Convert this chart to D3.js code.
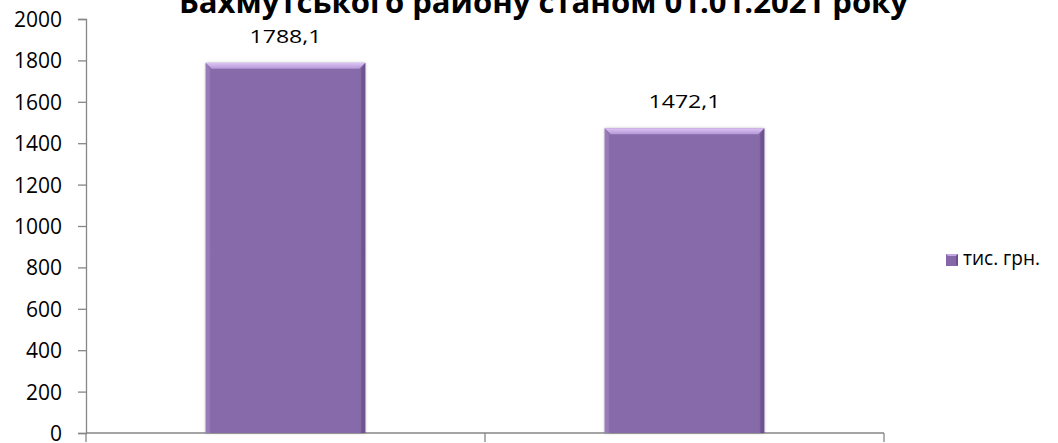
<!DOCTYPE html>
<html>
<head>
<meta charset="utf-8">
<script src="https://cdn.jsdelivr.net/npm/d3@7"></script>
<style>
  html, body { margin: 0; padding: 0; background: #fff; }
  svg { display: block; }
  text { font-family: "Open Sans", "Noto Sans", sans-serif; fill: #000; }
</style>
</head>
<body>
<svg id="chart" width="1058" height="443"></svg>
<script>
const titleText = "Бахмутського району станом 01.01.2021 року";
const categories = ["A", "B"];
const values = [1788.1, 1472.1];
const valueLabels = ["1788,1", "1472,1"];
const seriesName = "тис. грн.";
const yTicks = [0, 200, 400, 600, 800, 1000, 1200, 1400, 1600, 1800, 2000];

const svg = d3.select("#chart");
const W = 1058, H = 443;
const m = { left: 86, right: 174, top: 19, bottom: 10 };
const plotW = W - m.left - m.right; // 798
const plotH = H - m.top - m.bottom; // 414

const x = d3.scaleBand().domain(categories).range([m.left, m.left + plotW]).paddingInner(0.6).paddingOuter(0.3);
const xCat = d3.scaleBand().domain(categories).range([m.left, m.left + plotW]);
const y = d3.scaleLinear().domain([0, 2000]).range([m.top + plotH, m.top]);

const defs = svg.append("defs");
const gTop = defs.append("linearGradient").attr("id", "gTop").attr("x1", 0).attr("y1", 0).attr("x2", 0).attr("y2", 1);
gTop.append("stop").attr("offset", "0%").attr("stop-color", "#dcc4f4");
gTop.append("stop").attr("offset", "100%").attr("stop-color", "#b496d6");
const gBody = defs.append("linearGradient").attr("id", "gBody").attr("x1", 0).attr("y1", 0).attr("x2", 1).attr("y2", 0);
gBody.append("stop").attr("offset", "0%").attr("stop-color", "#8e70ae");
gBody.append("stop").attr("offset", "4%").attr("stop-color", "#876aa9");
gBody.append("stop").attr("offset", "96%").attr("stop-color", "#876aa9");
gBody.append("stop").attr("offset", "100%").attr("stop-color", "#7a5e9c");
const filt = defs.append("filter").attr("id", "shadow").attr("x", "-10%").attr("y", "-10%").attr("width", "120%").attr("height", "120%");
filt.append("feDropShadow").attr("dx", 0).attr("dy", 0).attr("stdDeviation", 1.5).attr("flood-color", "#000").attr("flood-opacity", 0.25);

// axes
const axisColor = "#868686";
const yAxis = svg.append("g").attr("transform", `translate(${m.left},0)`)
  .call(d3.axisLeft(y).tickValues(yTicks).tickSize(8).tickPadding(16).tickFormat(d3.format("d")));
yAxis.select(".domain").attr("stroke", axisColor).attr("stroke-width", 1.3);
yAxis.selectAll(".tick line").attr("stroke", axisColor).attr("stroke-width", 1.3);
yAxis.selectAll(".tick text").style("font-size", "21px").attr("dy", "0.36em").attr("fill", "#000");

const xBounds = [m.left, ...categories.map(c => xCat(c) + xCat.bandwidth())];
const xAxis = svg.append("g");
xAxis.append("line").attr("x1", m.left).attr("x2", m.left + plotW).attr("y1", y(0)).attr("y2", y(0))
  .attr("stroke", axisColor).attr("stroke-width", 1.3);
xAxis.selectAll("line.tk").data(xBounds).join("line").attr("class", "tk")
  .attr("x1", d => d).attr("x2", d => d).attr("y1", y(0)).attr("y2", y(0) + 9)
  .attr("stroke", axisColor).attr("stroke-width", 1.3);

// bars
const bev = 6;
const bars = svg.append("g").selectAll("g").data(values).join("g");
bars.append("rect")
  .attr("x", (d, i) => x(categories[i])).attr("y", d => y(d))
  .attr("width", x.bandwidth()).attr("height", d => y(0) - y(d))
  .attr("fill", "url(#gBody)").attr("filter", "url(#shadow)");
bars.append("polygon")
  .attr("points", (d, i) => {
    const x1 = x(categories[i]) + x.bandwidth(), t = y(d), b = y(0);
    return `${x1},${t} ${x1},${b} ${x1 - 4},${b} ${x1 - 4},${t + bev}`;
  }).attr("fill", "#6a5089").attr("opacity", 0.75);
bars.append("polygon")
  .attr("points", (d, i) => {
    const x0 = x(categories[i]), t = y(d), b = y(0);
    return `${x0},${t} ${x0 + 4},${t + bev} ${x0 + 4},${b} ${x0},${b}`;
  }).attr("fill", "#9a80bb").attr("opacity", 0.8);
bars.append("polygon")
  .attr("points", (d, i) => {
    const x0 = x(categories[i]), x1 = x0 + x.bandwidth(), t = y(d);
    return `${x0},${t} ${x1},${t} ${x1 - bev},${t + bev} ${x0 + bev},${t + bev}`;
  }).attr("fill", "url(#gTop)");

// value labels
svg.append("g").selectAll("text").data(values).join("text")
  .attr("x", (d, i) => x(categories[i]) + x.bandwidth() / 2)
  .attr("y", d => y(d) - 20)
  .attr("text-anchor", "middle")
  .style("font-size", "19px")
  .attr("textLength", 72).attr("lengthAdjust", "spacingAndGlyphs")
  .text((d, i) => valueLabels[i]);

// title (its first line lies above the frame, as in the reference)
svg.append("text")
  .attr("x", 543.5).attr("y", 13)
  .attr("text-anchor", "middle")
  .style("font-size", "31px").style("font-weight", "bold")
  .attr("textLength", 729).attr("lengthAdjust", "spacingAndGlyphs")
  .text(titleText);

// legend
const leg = svg.append("g").attr("transform", "translate(946,254)");
leg.append("rect").attr("width", 12).attr("height", 12).attr("fill", "#8566a8");
leg.append("polygon").attr("points", "0,0 12,0 10,2 2,2").attr("fill", "#c4a6e2");
leg.append("polygon").attr("points", "12,0 12,12 10,10 10,2").attr("fill", "#6a5089");
leg.append("text").attr("x", 17).attr("y", 11).style("font-size", "20px")
  .attr("textLength", 77).attr("lengthAdjust", "spacingAndGlyphs").text(seriesName);
</script>
</body>
</html>
